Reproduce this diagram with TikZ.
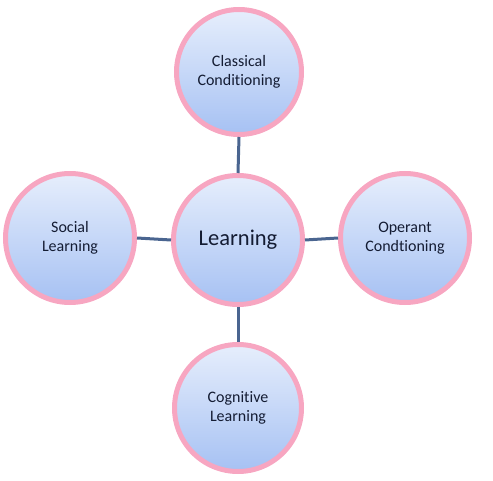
\documentclass[tikz,border=0pt]{standalone}
\usepackage{fontspec}
\setmainfont[Ligatures={NoCommon}]{Carlito}
\definecolor{ringpink}{HTML}{F7A6C1}
\definecolor{filltop}{HTML}{E6EEFC}
\definecolor{fillbot}{HTML}{A6C1F3}
\definecolor{linkblue}{HTML}{4A6590}
\definecolor{txt}{HTML}{141C33}
\begin{document}
\begin{tikzpicture}[x=1pt,y=1pt,
  bubble/.style={circle, draw=ringpink, line width=5pt, top color=filltop, bottom color=fillbot,
    minimum size=129pt, inner sep=0pt, align=center, text=txt, font=\fontsize{16}{18.5}\selectfont},
  link/.style={draw=linkblue, line width=3pt}]
\useasboundingbox (0,0) rectangle (493,480);
\node[bubble, font=\fontsize{22.5}{26}\selectfont] (C) at (238,240) {Learning};
\node[bubble, minimum size=125pt] (T) at (239,408) {Classical\\Conditioning};
\node[bubble] (R) at (405,242) {Operant\\Condtioning};
\node[bubble] (L) at (70,242) {Social\\Learning};
\node[bubble, minimum size=127pt] (B) at (238,72) {Cognitive\\Learning};
\path[link] (C.north) -- (T.south);
\path[link] (C.east) -- (R.west);
\path[link] (C.west) -- (L.east);
\path[link] (C.south) -- (B.north);
\end{tikzpicture}
\end{document}
